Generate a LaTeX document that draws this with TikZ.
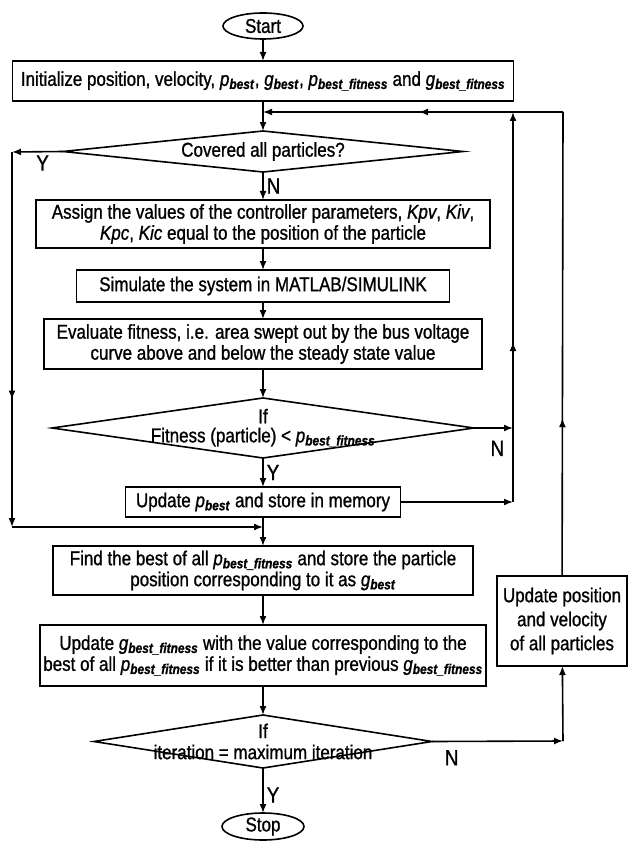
\documentclass[tikz,border=0pt]{standalone}
\usepackage{fontspec}
\setmainfont{Liberation Sans}[FakeStretch=0.85, FakeBold=1]
\usetikzlibrary{shapes.geometric, arrows.meta, positioning, calc, decorations.markings}

\newcommand{\psovar}[2]{\textit{#1}\textsubscript{\textbf{\textit{#2}}}}

\begin{document}
\begin{tikzpicture}[%
  x=1pt, y=-1pt,%
  font=\fontsize{20}{21}\selectfont,%
  >={Latex[length=9pt,width=7pt]},%
  process/.style={rectangle, draw, line width=1.6pt, align=center, inner sep=0pt, outer sep=0pt},%
  decision/.style={diamond, draw, line width=1.6pt, align=center, inner sep=0pt, outer sep=0pt},%
  terminal/.style={ellipse, draw, line width=1.6pt, inner sep=0pt, outer sep=0pt, minimum width=80pt, minimum height=26pt},%
  conn/.style={line width=1.6pt},%
  arrow/.style={conn, ->},%
  midarrow/.style={postaction={decorate}, decoration={markings, mark=at position #1 with {\arrow{>}}}},%
  yn/.style={font=\fontsize{22}{22}\selectfont, inner sep=3pt}%
]
  \useasboundingbox (0,0) rectangle (628,842);

  % main column
  \node[terminal] (start) at (263,26) {Start};
  \node[process, below=22pt of start, minimum width=501pt, minimum height=40pt] (init) {Initialize position, velocity, \psovar{p}{best}, \psovar{g}{best}, \psovar{p}{best\_fitness} and \psovar{g}{best\_fitness}};
  \node[decision, below=30pt of init, minimum width=400pt, minimum height=41pt] (cover) {\makebox[0pt]{Covered all particles?}};
  \node[process, below=28pt of cover, minimum width=454pt, minimum height=48pt] (assign) {Assign the values of the controller parameters, \textit{Kpv}, \textit{Kiv},\\ \textit{Kpc}, \textit{Kic} equal to the position of the particle};
  \node[process, below=22pt of assign, minimum width=373pt, minimum height=32pt] (simulate) {Simulate the system in MATLAB/SIMULINK};
  \node[process, below=17pt of simulate, minimum width=438pt, minimum height=50pt] (evaluate) {Evaluate fitness, i.e. area swept out by the bus voltage\\ curve above and below the steady state value};
  \node[decision, below=29pt of evaluate, minimum width=422pt, minimum height=60pt] (fit) {\makebox[0pt]{If}\\[-2pt]\makebox[0pt]{Fitness (particle) < \psovar{p}{best\_fitness}}};
  \node[process, below=29pt of fit, minimum width=275pt, minimum height=30pt] (updp) {Update \psovar{p}{best} and store in memory};
  \node[process, below=29pt of updp, minimum width=420pt, minimum height=49pt] (find) {Find the best of all \psovar{p}{best\_fitness} and store the particle\\ position corresponding to it as \psovar{g}{best}};
  \node[process, below=30pt of find, minimum width=446pt, minimum height=61pt] (updg) {Update \psovar{g}{best\_fitness} with the value corresponding to the\\ best of all \psovar{p}{best\_fitness} if it is better than previous \psovar{g}{best\_fitness}};
  \node[decision, below=29pt of updg, minimum width=338pt, minimum height=53pt] (iter) {\makebox[0pt]{If}\\[0pt]\makebox[0pt]{iteration = maximum iteration}};
  \node[terminal, below=45pt of iter, minimum width=82pt, minimum height=27pt] (stop) {Stop};

  % side box
  \node[process, minimum width=130pt, minimum height=90pt] (updpos) at (562,621) {Update position\\[3pt] and velocity\\[3pt] of all particles};

  % corner points
  \coordinate (loop) at (263,112);
  \coordinate (loopR) at (563,112);
  \coordinate (pTop) at (513,112);
  \coordinate (pBot) at (513,502);
  \coordinate (yL) at (12,152);
  \coordinate (yB) at (12,527);
  \coordinate (merge) at (263,527);
  \coordinate (nR) at (563,741);

  \draw[arrow] (start) -- (init);
  \draw[arrow] (init) -- (cover);
  \draw[arrow] (cover) -- node[yn, right] {N} (assign);
  \draw[arrow] (assign) -- (simulate);
  \draw[arrow] (simulate) -- (evaluate);
  \draw[arrow] (evaluate) -- (fit);
  \draw[arrow] (fit) -- node[yn, right] {Y} (updp);
  \draw[arrow] (updp) -- (find);
  \draw[arrow] (find) -- (updg);
  \draw[arrow] (updg) -- (iter);
  \draw[arrow] (iter) -- node[yn, right, pos=0.6] {Y} (stop);

  % Y branch of the first test
  \draw[arrow] (cover.west) -- node[yn, below, pos=0.4] {Y} (yL);
  \draw[arrow, midarrow=0.66] (yL) -- (yB);
  \draw[arrow] (yB) -- (merge);

  % N branch and pbest update back to the top
  \draw[arrow] (fit.east) -- node[yn, below, pos=0.6, yshift=-9pt] {N} (fit.east -| pTop);
  \draw[arrow] (updp) -- (updp -| pTop);
  \draw[arrow, midarrow=0.41] (pBot) -- (pTop);

  % next iteration
  \draw[arrow] (iter.east) -- node[yn, below, pos=0.15, yshift=-5pt] {N} (nR);
  \draw[arrow] (nR) -- (updpos);
  \draw[conn, midarrow=0.34] (updpos) -- (loopR);
  \draw[arrow, midarrow=0.48] (loopR) -- (loop);
\end{tikzpicture}
\end{document}
